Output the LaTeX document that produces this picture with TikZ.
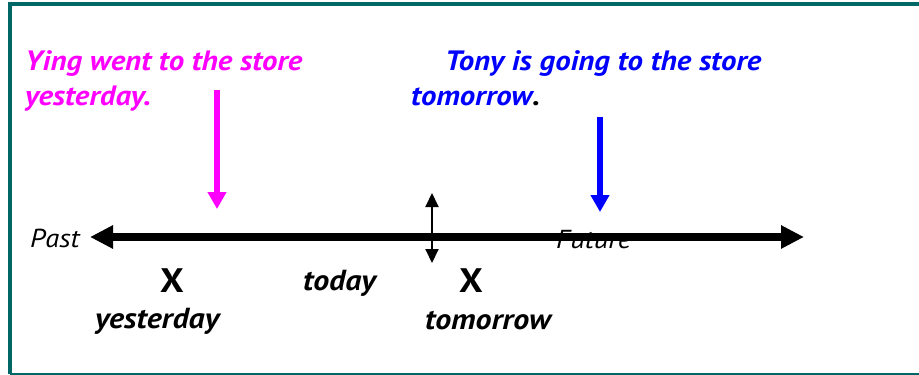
\documentclass[tikz,border=0pt]{standalone}
\usepackage{fontspec}
\setmainfont{PT Sans}[FakeStretch=1.1]
\usepackage{xcolor}
\usetikzlibrary{arrows.meta,positioning}
\definecolor{frameteal}{RGB}{0,102,102}
\definecolor{storepink}{RGB}{255,0,255}
\definecolor{storeblue}{RGB}{0,0,255}

\begin{document}
\begin{tikzpicture}[
    x=1pt, y=-1pt,
    sentence/.style={anchor=base west, inner sep=0pt, font=\fontsize{28}{34}\selectfont\bfseries\itshape},
    endword/.style={anchor=base west, inner sep=0pt, font=\fontsize{26}{30}\selectfont\itshape},
    dayword/.style={anchor=base west, inner sep=0pt, font=\fontsize{29}{34}\selectfont\bfseries\itshape},
    xmark/.style={anchor=base, inner sep=0pt, font=\fontsize{34}{40}\selectfont\bfseries},
    pointer/.style={line width=6.5pt, -{Triangle[length=17pt,width=18pt]}},
    timeline/.style={line width=8pt, {Triangle[length=23pt,width=22pt]}-{Triangle[length=23pt,width=22pt]}},
    nowline/.style={line width=2pt, {Triangle[length=14pt,width=13pt]}-{Triangle[length=14pt,width=13pt]}}
]
\useasboundingbox (0,0) rectangle (919,375);

% frame, open on the right
\draw[frameteal, line width=4pt] (919,4) -- (10,4) -- (10,374);
\draw[frameteal, line width=2.5pt] (10,374) -- (919,374);

% sentences
\node[sentence, storepink] (ying1) at (25,70) {Ying went to the store};
\node[sentence, storepink] (ying2) at (25,105) {yesterday.};
\node[sentence, storeblue] (tony1) at (445,70) {Tony is going to the store};
\node[sentence, storeblue] (tony2) at (411,105) {tomorrow\textcolor{black}{.}};

% ends of the time line
\node[endword] (past) at (30,247) {Past};
\node[endword] (future) at (556,248) {Future};
\coordinate (pastend) at (90,237);
\coordinate (futureend) at (804,237);
\draw[timeline] (pastend) -- (futureend);

% now
\coordinate (nowtop) at (432,193);
\coordinate (nowbot) at (432,263);
\draw[nowline] (nowtop) -- (nowbot);

% days
\node[xmark] (xyest) at (172,292) {X};
\node[xmark] (xtom) at (471,292) {X};
\node[dayword] (today) at (303,290) {today};
\node[dayword] (yest) at (95,328) {yesterday};
\node[dayword] (tom) at (425,329) {tomorrow};

% pointers
\coordinate (yingtop) at (217,90);
\coordinate (yingtip) at (217,209);
\draw[pointer, storepink] (yingtop) -- (yingtip);
\coordinate (tonytop) at (600,117);
\coordinate (tonytip) at (600,212);
\draw[pointer, storeblue] (tonytop) -- (tonytip);
\end{tikzpicture}
\end{document}
